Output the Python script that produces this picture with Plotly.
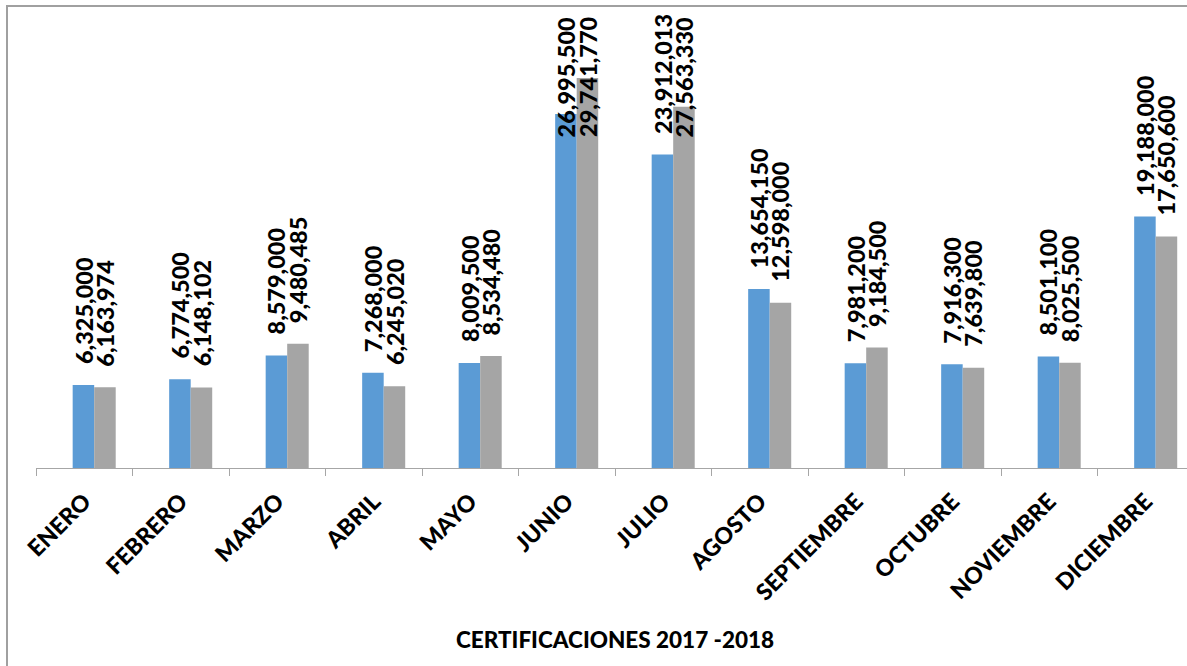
import plotly.graph_objects as go

# Monthly certification totals, 2017 vs 2018
meses = ["ENERO", "FEBRERO", "MARZO", "ABRIL", "MAYO", "JUNIO", "JULIO",
         "AGOSTO", "SEPTIEMBRE", "OCTUBRE", "NOVIEMBRE", "DICIEMBRE"]
serie_2017 = [6325000, 6774500, 8579000, 7268000, 8009500, 26995500,
              23912013, 13654150, 7981200, 7916300, 8501100, 19188000]
serie_2018 = [6163974, 6148102, 9480485, 6245020, 8534480, 29741770,
              27563330, 12598000, 9184500, 7639800, 8025500, 17650600]
titulo = "CERTIFICACIONES 2017 -2018"

AZUL = "#5B9BD5"
GRIS = "#A5A5A5"
FONT = "Lato"

W, H = 1187, 666
M_L, M_R, M_T, M_B = 36, 0, 8, 198
plot_w = W - M_L - M_R
plot_h = H - M_T - M_B
cat_px = 96.5                      # width of one category slot
x_range = [-0.5, -0.5 + plot_w / cat_px]
y_max = 35.09e6
px_per_unit = plot_h / y_max

bar_w = 0.223
off_a = -0.12
off_b = off_a + bar_w

label_size = 23.5
label_gap = 19      # px between bar top and label
label_top_min = 14  # labels never go above this pixel row


def label_len(txt):
    # approximate rendered length of a rotated number label in px
    return sum(0.58 if c.isdigit() else 0.26 for c in txt) * label_size


fig = go.Figure()
fig.add_trace(go.Bar(x=meses, y=serie_2017, marker_color=AZUL,
                     width=bar_w, offset=off_a, name="2017",
                     marker_line_width=0))
fig.add_trace(go.Bar(x=meses, y=serie_2018, marker_color=GRIS,
                     width=bar_w, offset=off_b, name="2018",
                     marker_line_width=0))

label_font = dict(family=FONT, size=label_size, color="black", weight=900)
annotations = []
for serie, off in ((serie_2017, off_a), (serie_2018, off_b)):
    for i, v in enumerate(serie):
        txt = f"{v:,}"
        top_px = M_T + plot_h - v * px_per_unit
        bottom_px = top_px - label_gap
        xc = i + off + bar_w / 2
        if bottom_px - label_len(txt) < label_top_min:
            annotations.append(dict(
                x=xc, y=1, xref="x", yref="paper", text=txt,
                textangle=-90, yanchor="top", xanchor="center",
                yshift=-(label_top_min - M_T), showarrow=False,
                font=label_font))
        else:
            annotations.append(dict(
                x=xc, y=v, xref="x", yref="y", text=txt,
                textangle=-90, yanchor="bottom", xanchor="center",
                yshift=label_gap, showarrow=False,
                font=label_font))

# chart title below the category labels
title_px = 639
annotations.append(dict(
    x=(len(meses) - 1) / 2, y=-(title_px - (M_T + plot_h)) / plot_h,
    xref="x", yref="paper", text=titulo, showarrow=False,
    yanchor="middle", xanchor="center",
    font=dict(family=FONT, size=22.5, color="black", weight=900)))

# outer chart frame
frame_l, frame_t = 7, 6
fig.add_shape(type="rect", xref="paper", yref="paper",
              x0=(frame_l - M_L) / plot_w, x1=1.05,
              y0=-1.0, y1=1 + (M_T - frame_t) / plot_h,
              line=dict(color="#A0A0A0", width=2), layer="below")

fig.update_layout(
    width=W, height=H,
    margin=dict(l=M_L, r=M_R, t=M_T, b=M_B),
    paper_bgcolor="white", plot_bgcolor="white",
    showlegend=False,
    barmode="overlay",
    annotations=annotations,
    xaxis=dict(type="category", range=x_range, tickson="boundaries",
               ticks="outside", ticklen=7, tickcolor="#A6A6A6",
               showline=True, linecolor="#A6A6A6", linewidth=1,
               showgrid=False, tickangle=-45, ticklabelstandoff=10,
               tickfont=dict(family=FONT, size=23, color="black", weight=900)),
    yaxis=dict(range=[0, y_max], visible=False, showgrid=False),
)

fig.write_html("out.html")
